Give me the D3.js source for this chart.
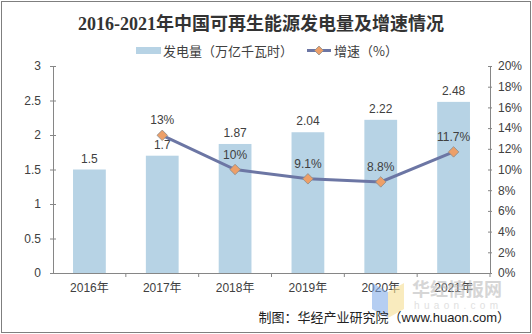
<!DOCTYPE html>
<html>
<head>
<meta charset="utf-8">
<script src="https://cdn.jsdelivr.net/npm/d3@7"></script>
<style>
  body { margin: 0; background: #fff; }
  svg text { font-family: "Liberation Sans", Arial, "Noto Sans CJK SC", sans-serif; fill: #404040; }
</style>
</head>
<body>
<svg id="chart" width="532" height="334"></svg>
<script>
// data
var years = ["2016年", "2017年", "2018年", "2019年", "2020年", "2021年"];
var power = [1.5, 1.7, 1.87, 2.04, 2.22, 2.48];
var growthYears = ["2017年", "2018年", "2019年", "2020年", "2021年"];
var growth = [13.3, 10, 9.1, 8.8, 11.7];
var growthLabels = ["13%", "10%", "9.1%", "8.8%", "11.7%"];
var leftTicks = [0, 0.5, 1, 1.5, 2, 2.5, 3];
var rightTicks = [0, 2, 4, 6, 8, 10, 12, 14, 16, 18, 20];

var svg = d3.select("#chart");
var plotLeft = 53, plotRight = 490, plotTop = 66, plotBottom = 273;
var cjk = '"Noto Sans CJK SC", sans-serif';
var mixed = '"Liberation Sans", "Noto Sans CJK SC", sans-serif';

// outer frame
svg.append("rect").attr("x", 1.5).attr("y", 1.5).attr("width", 529).attr("height", 331)
  .attr("fill", "none").attr("stroke", "#7f7f7f").attr("stroke-width", 1);

var x = d3.scaleBand().domain(years).range([plotLeft, plotRight]).paddingInner(0.55).paddingOuter(0.275);
var xb = d3.scaleBand().domain(years).range([plotLeft, plotRight]);
var y = d3.scaleLinear().domain([0, 3]).range([plotBottom, plotTop]);
var y2 = d3.scaleLinear().domain([0, 20]).range([plotBottom, plotTop]);

// bars
svg.selectAll("rect.bar")
  .data(power)
  .join("rect")
  .attr("class", "bar")
  .attr("x", function (d, i) { return x(years[i]); })
  .attr("y", function (d) { return y(d); })
  .attr("width", x.bandwidth())
  .attr("height", function (d) { return plotBottom - y(d); })
  .style("fill", "#b7d3e5");

// axes
var axisColor = "#868686";
var gl = svg.append("g").attr("transform", "translate(" + plotLeft + ",0)")
  .call(d3.axisLeft(y).tickValues(leftTicks).tickSize(4).tickSizeOuter(0).tickPadding(8)
    .tickFormat(function (d) { return d; }));
var gr = svg.append("g").attr("transform", "translate(" + plotRight + ",0)")
  .call(d3.axisRight(y2).tickValues(rightTicks).tickSize(4).tickSizeOuter(0).tickPadding(4)
    .tickFormat(function (d) { return d + "%"; }));
gr.selectAll(".tick line").attr("x1", -2).attr("x2", 2);
gl.selectAll(".tick line").attr("x1", -3).attr("x2", 3);
var gx = svg.append("g").attr("transform", "translate(0," + plotBottom + ")")
  .call(d3.axisBottom(xb).tickSize(0).tickSizeOuter(0).tickPadding(10));
gx.selectAll(".tick text").style("font-family", mixed);
// x ticks at band edges
gx.selectAll("line.edge")
  .data(years)
  .join("line")
  .attr("class", "edge")
  .attr("x1", function (d) { return xb(d) + xb.bandwidth(); })
  .attr("x2", function (d) { return xb(d) + xb.bandwidth(); })
  .attr("y1", 0).attr("y2", 4)
  .attr("stroke", axisColor);
[gl, gr, gx].forEach(function (g) {
  g.selectAll("path, line").attr("stroke", axisColor);
  g.selectAll("text").style("font-size", "12px").style("fill", "#404040");
});

// bar labels
svg.selectAll("text.barlab")
  .data(power)
  .join("text")
  .attr("class", "barlab")
  .attr("x", function (d, i) { return xb(years[i]) + xb.bandwidth() / 2; })
  .attr("y", function (d) { return y(d) - 7; })
  .attr("text-anchor", "middle")
  .style("font-size", "12px")
  .text(function (d) { return d; });

// growth line
var line = d3.line()
  .x(function (d, i) { return xb(growthYears[i]) + xb.bandwidth() / 2; })
  .y(function (d) { return y2(d); });
svg.append("path").datum(growth)
  .attr("d", line)
  .attr("fill", "none")
  .attr("stroke", "#6c76a4")
  .attr("stroke-width", 3);

svg.selectAll("path.mark")
  .data(growth)
  .join("path")
  .attr("class", "mark")
  .attr("d", d3.symbol().type(d3.symbolDiamond2).size(70))
  .attr("transform", function (d, i) { return "translate(" + (xb(growthYears[i]) + xb.bandwidth() / 2) + "," + y2(d) + ")"; })
  .attr("fill", "#ed9f68")
  .attr("stroke", "#8a8a8a")
  .attr("stroke-width", 0.8);

svg.selectAll("text.glab")
  .data(growth)
  .join("text")
  .attr("class", "glab")
  .attr("x", function (d, i) { return xb(growthYears[i]) + xb.bandwidth() / 2; })
  .attr("y", function (d) { return y2(d) - 11; })
  .attr("text-anchor", "middle")
  .style("font-size", "12px")
  .text(function (d, i) { return growthLabels[i]; });

// title
svg.append("text")
  .attr("x", 261).attr("y", 30)
  .attr("text-anchor", "middle")
  .style("font-family", '"Liberation Serif", "Noto Sans CJK SC", serif')
  .style("font-weight", "bold")
  .style("font-size", "18px")
  .style("fill", "#333")
  .text("2016-2021年中国可再生能源发电量及增速情况");

// legend
svg.append("rect").attr("x", 136).attr("y", 47).attr("width", 25).attr("height", 7).attr("fill", "#b7d3e5");
svg.append("text").attr("x", 163).attr("y", 56).style("font-family", cjk).style("font-size", "13px")
  .text("发电量（万亿千瓦时）");
svg.append("line").attr("x1", 307).attr("x2", 331).attr("y1", 50.5).attr("y2", 50.5)
  .attr("stroke", "#6c76a4").attr("stroke-width", 3);
svg.append("path").attr("d", d3.symbol().type(d3.symbolDiamond2).size(50))
  .attr("transform", "translate(319,50.5)")
  .attr("fill", "#ed9f68").attr("stroke", "#8a8a8a").attr("stroke-width", 0.8);
svg.append("text").attr("x", 334).attr("y", 56).style("font-family", cjk).style("font-size", "13px")
  .text("增速（%）");

// watermark
var wm = svg.append("g").attr("opacity", 0.55);
wm.append("path").attr("d", "M372,283 L388,292 L388,318 L372,309 Z").attr("fill", "#7aa7e8");
wm.append("path").attr("d", "M388,292 L404,283 L404,309 L388,318 Z").attr("fill", "#f5dc8a");
wm.append("text").attr("x", 412).attr("y", 296).style("font-family", cjk).style("font-weight", "bold")
  .style("font-size", "18px").style("fill", "#b5b5b5").text("华经情报网");
wm.append("text").attr("x", 414).attr("y", 309).style("font-size", "10px").style("fill", "#c8c8c8")
  .attr("textLength", 84).text("huaon.com");

// source
svg.append("text")
  .attr("x", 510).attr("y", 322)
  .attr("text-anchor", "end")
  .style("font-family", mixed)
  .style("font-size", "13px")
  .style("fill", "#222")
  .text("制图：华经产业研究院（www.huaon.com）");
</script>
</body>
</html>
